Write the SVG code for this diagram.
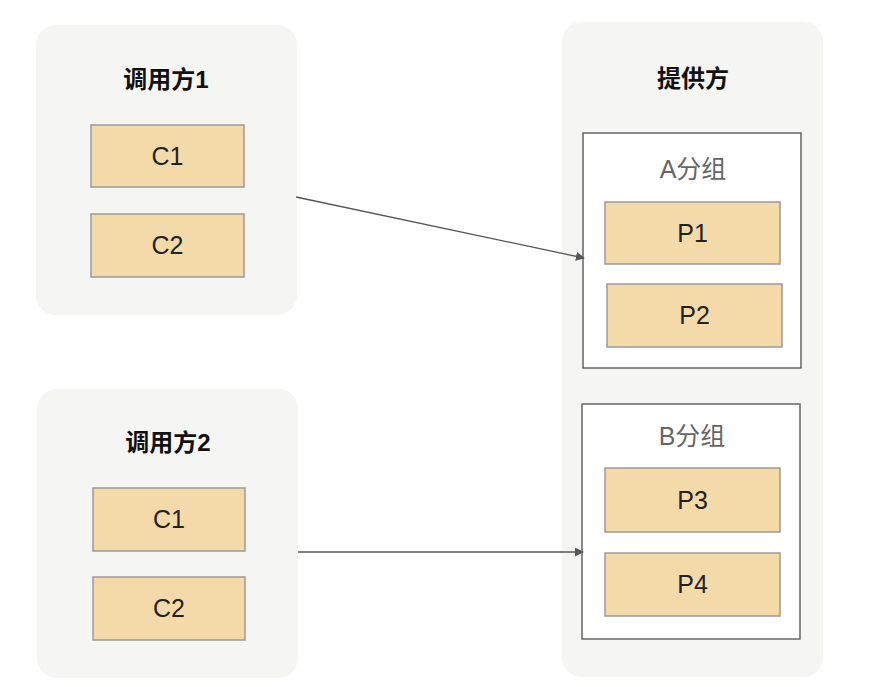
<svg xmlns="http://www.w3.org/2000/svg" width="871" height="687" viewBox="0 0 871 687">
<style>
.panel{fill:#f5f5f4;stroke:none}
.node{fill:#f4daa9;stroke:#9a9a9a;stroke-width:1.5}
.grp{fill:#ffffff;stroke:#666666;stroke-width:1.5}
.title{font-family:"Liberation Sans","Noto Sans CJK SC",sans-serif;font-size:24px;font-weight:bold;fill:#111;text-anchor:middle}
.lbl{font-family:"Liberation Sans","Noto Sans CJK SC",sans-serif;font-size:25px;fill:#222;text-anchor:middle}
.glbl{font-family:"Liberation Sans","Noto Sans CJK SC",sans-serif;font-size:25px;fill:#666;text-anchor:middle}
.edge{stroke:#555;stroke-width:1.3;fill:none;marker-end:url(#arr)}
</style>
<defs>
<marker id="arr" viewBox="0 0 10 10" refX="9" refY="5" markerWidth="9" markerHeight="9" markerUnits="userSpaceOnUse" orient="auto">
<path d="M0,0 L10,5 L0,10 z" fill="#555"/>
</marker>
</defs>
<rect width="871" height="687" fill="#ffffff"/>
<g id="caller1">
<rect class="panel" x="36" y="25" width="261" height="290" rx="20"/>
<text class="title" x="166" y="88">调用方1</text>
</g>
<g id="caller1-c1"><rect class="node" x="91" y="125" width="153" height="62"/><text class="lbl" x="167.5" y="165">C1</text></g>
<g id="caller1-c2"><rect class="node" x="91" y="214" width="153" height="63"/><text class="lbl" x="167.5" y="254">C2</text></g>
<g id="caller2">
<rect class="panel" x="37" y="389" width="261" height="289" rx="20"/>
<text class="title" x="168" y="451">调用方2</text>
</g>
<g id="caller2-c1"><rect class="node" x="93" y="488" width="152" height="63"/><text class="lbl" x="169" y="528">C1</text></g>
<g id="caller2-c2"><rect class="node" x="93" y="577" width="152" height="63"/><text class="lbl" x="169" y="617">C2</text></g>
<g id="provider">
<rect class="panel" x="562" y="22" width="261" height="655" rx="20"/>
<text class="title" x="693" y="87">提供方</text>
</g>
<g id="groupA">
<rect class="grp" x="583" y="133" width="218" height="235"/>
<text class="glbl" x="693" y="178">A分组</text>
</g>
<g id="p1"><rect class="node" x="605" y="202" width="175" height="62"/><text class="lbl" x="692.5" y="242">P1</text></g>
<g id="p2"><rect class="node" x="607" y="284" width="175" height="63"/><text class="lbl" x="694.5" y="324">P2</text></g>
<g id="groupB">
<rect class="grp" x="582" y="404" width="218" height="235"/>
<text class="glbl" x="692" y="445">B分组</text>
</g>
<g id="p3"><rect class="node" x="605" y="468" width="175" height="64"/><text class="lbl" x="692.5" y="509">P3</text></g>
<g id="p4"><rect class="node" x="605" y="553" width="175" height="63"/><text class="lbl" x="692.5" y="593">P4</text></g>
<g id="connectors">
<line class="edge" x1="296" y1="197" x2="584" y2="258"/>
<line class="edge" x1="298" y1="552" x2="583" y2="552"/>
</g>
</svg>
